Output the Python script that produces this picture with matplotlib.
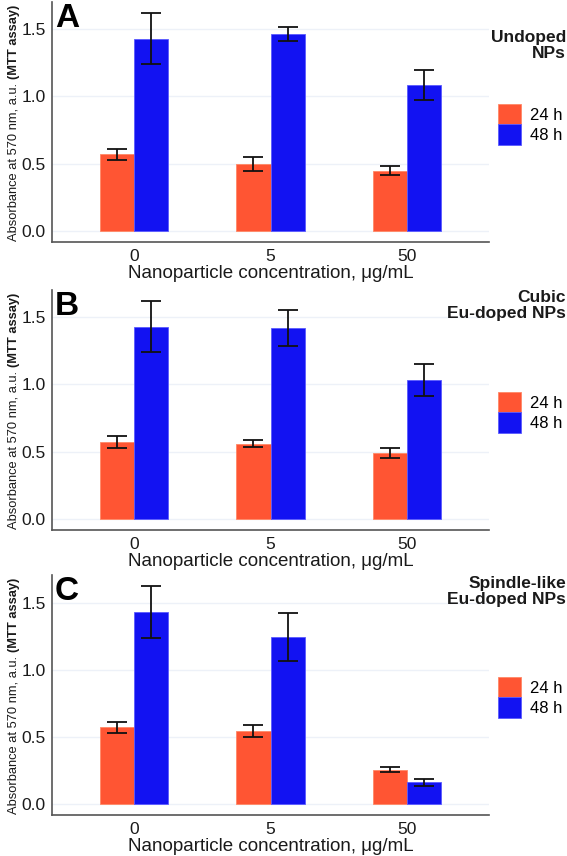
import matplotlib
matplotlib.use("Agg")
import matplotlib.pyplot as plt
import numpy as np

plt.rcParams['font.family'] = ['Liberation Sans', 'DejaVu Sans']

concentrations = ["0", "5", "50"]
hours = ["24 h", "48 h"]
colors = ["#FF5533", "#1212F2"]
edges = ["#FF8866", "#5A5AFF"]

panels = ["A", "B", "C"]
titles = ["Undoped\nNPs", "Cubic\nEu-doped NPs", "Spindle-like\nEu-doped NPs"]

# means and error bar ends (lower, upper) per panel
means_24 = [[0.571, 0.495, 0.447], [0.570, 0.560, 0.493], [0.573, 0.541, 0.257]]
means_48 = [[1.427, 1.464, 1.083], [1.426, 1.416, 1.031], [1.428, 1.245, 0.163]]
low_24 = [[0.529, 0.447, 0.418], [0.530, 0.537, 0.456], [0.531, 0.499, 0.241]]
high_24 = [[0.613, 0.547, 0.482], [0.617, 0.587, 0.530], [0.615, 0.588, 0.276]]
low_48 = [[1.240, 1.412, 0.977], [1.238, 1.283, 0.913], [1.238, 1.067, 0.138]]
high_48 = [[1.620, 1.519, 1.194], [1.618, 1.554, 1.152], [1.626, 1.425, 0.188]]

W, H = 567, 856
fig = plt.figure(figsize=(W / 100, H / 100), dpi=100)

tops = [2, 290, 575]
title_off = [30, 2, 3]
ax_h = 240
left, right = 52, 489
bw = 0.25

for i in range(3):
    top = tops[i]
    ax = fig.add_axes([left / W, 1 - (top + ax_h) / H, (right - left) / W, ax_h / H])
    x = np.arange(len(concentrations))
    series = [(means_24[i], low_24[i], high_24[i]), (means_48[i], low_48[i], high_48[i])]
    handles = []
    for k, (m, lo, hi) in enumerate(series):
        m = np.array(m)
        xs = x + (k - 0.5) * bw
        b = ax.bar(xs, m, width=bw, color=colors[k], edgecolor=edges[k], linewidth=0.6,
                   label=hours[k], zorder=2)
        handles.append(b)
        err = [m - np.array(lo), np.array(hi) - m]
        ax.errorbar(xs, m, yerr=err, fmt='none', ecolor='#111111', elinewidth=1.3,
                    capsize=7.5, capthick=1.3, zorder=3)
    ymax = max(max(high_24[i]), max(high_48[i]))
    ax.set_ylim(-0.05 * ymax, 1.05 * ymax)
    ax.set_xlim(-0.6, 2.6)
    ax.set_xticks(x)
    ax.set_xticklabels(concentrations)
    ax.set_yticks([0, 0.5, 1.0, 1.5])
    ax.set_yticklabels(["0.0", "0.5", "1.0", "1.5"])
    ax.tick_params(axis='both', length=0, labelsize=12.5, colors='#1a1a1a')
    ax.tick_params(axis='y', pad=4.5)
    ax.tick_params(axis='x', pad=5)
    ax.yaxis.grid(True, color='#EDF1F8', linewidth=1.0, zorder=0)
    ax.set_axisbelow(True)
    for s in ['top', 'right']:
        ax.spines[s].set_visible(False)
    for s in ['left', 'bottom']:
        ax.spines[s].set_color('#555555')
        ax.spines[s].set_linewidth(1.2)
    ax.set_xlabel("Nanoparticle concentration, μg/mL", fontsize=13.5, labelpad=1, color='#1a1a1a')

    # y label with bold part
    t1 = fig.text(14 / W, 0.5, "Absorbance at 570 nm, a.u. ", rotation=90, fontsize=9.3,
                  ha='center', va='center', color='#1a1a1a')
    t2 = fig.text(14 / W, 0.5, "(MTT assay)", rotation=90, fontsize=9.3, fontweight='bold',
                  ha='center', va='center', color='#1a1a1a')
    r = fig.canvas.get_renderer()
    h1 = t1.get_window_extent(r).height
    h2 = t2.get_window_extent(r).height
    tot = h1 + h2
    cy = H - (top + 121)
    t1.set_position((14 / W, (cy - tot / 2 + h1 / 2) / H))
    t2.set_position((14 / W, (cy - tot / 2 + h1 + h2 / 2) / H))

    # panel letter
    fig.text(55 / W, 1 - (top + 1) / H, panels[i], fontsize=24, fontweight='bold',
             ha='left', va='top', color='black')

    # legend title
    fig.text(566 / W, 1 - (top + title_off[i] - 2) / H, titles[i], fontsize=12.5,
             fontweight='bold', ha='right', va='top', linespacing=1.1, color='#1a1a1a')

    ax.legend(handles=handles, loc='upper left',
              bbox_to_anchor=(498 / W, 1 - (top + 102) / H), bbox_transform=fig.transFigure,
              frameon=False, borderpad=0, borderaxespad=0, fontsize=12,
              handlelength=1.4, handleheight=1.5, labelspacing=0.0, handletextpad=0.5)

fig.savefig("out.png", dpi=100)
